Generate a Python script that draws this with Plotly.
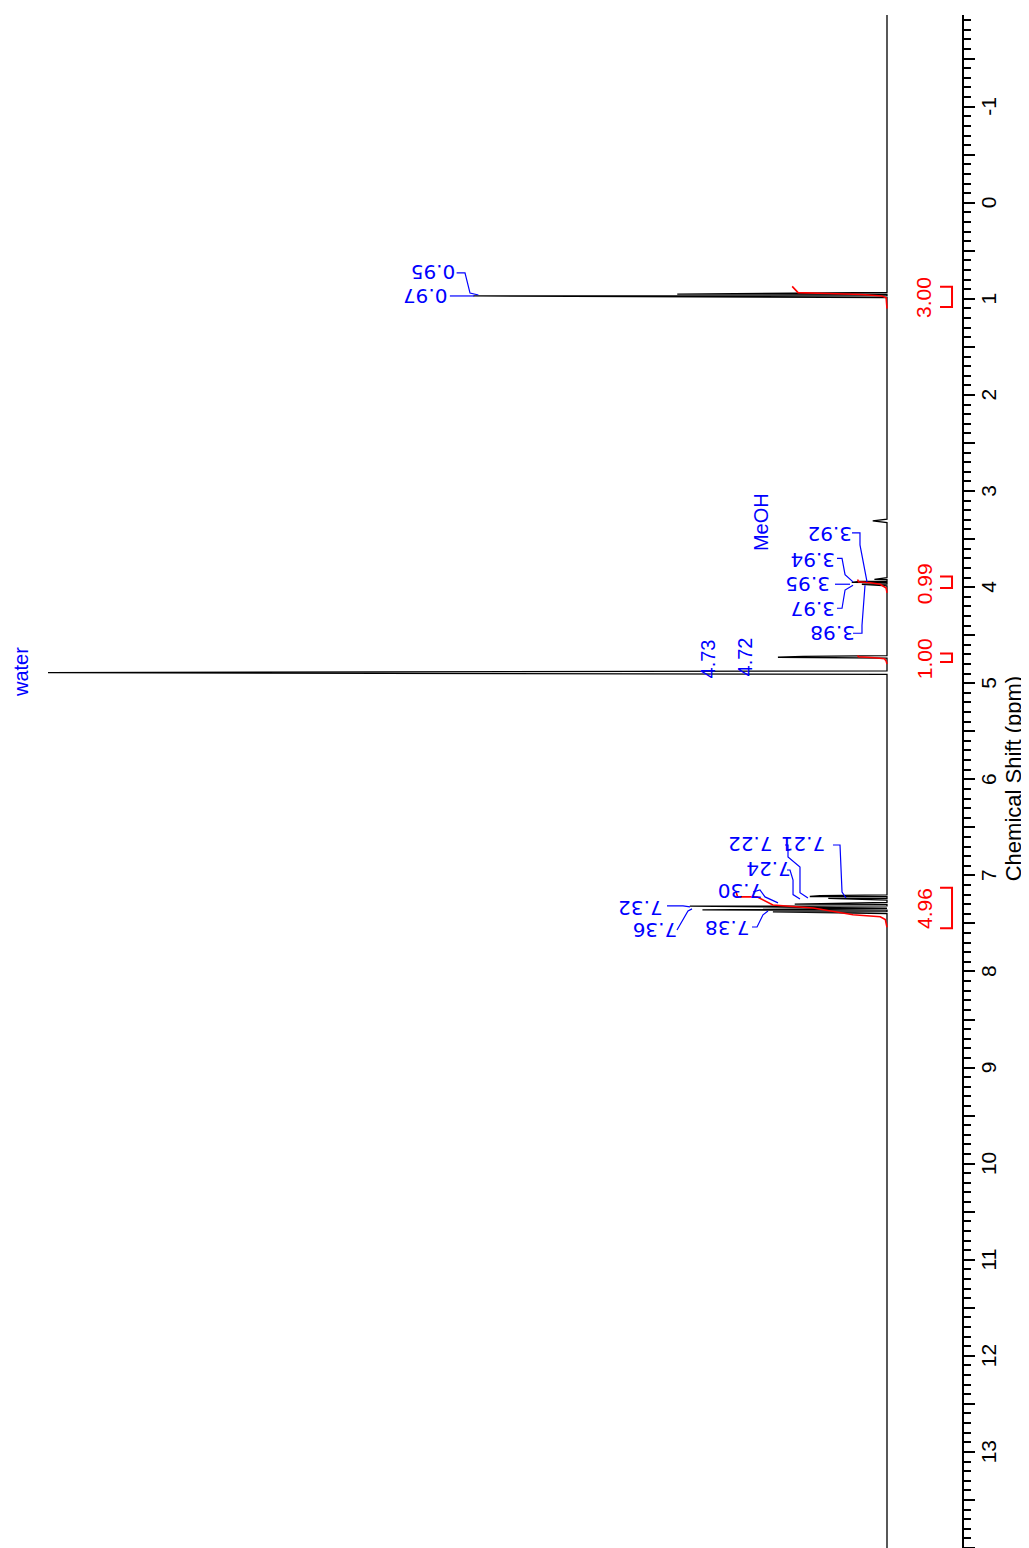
import plotly.graph_objects as go

# ---------------- data ----------------
# peak positions (ppm) and heights (relative intensity, water = 100)
PEAK_PPM = [0.95, 0.97, 3.31, 3.92, 3.94, 3.95, 3.97, 3.98, 4.72, 4.73, 4.89,
            7.21, 7.22, 7.24, 7.30, 7.32, 7.36, 7.38]
PEAK_HEIGHT = [25.0, 49.3, 1.7, 1.5, 3.3, 4.2, 3.0, 1.8, 10.0, 13.0, 100.0,
               8.0, 9.2, 7.0, 11.0, 23.5, 22.0, 13.6]
SPEC_START, SPEC_END = -1.96, 14.0

# integral curves (ppm, integral height in intensity units)
INT1_PPM = [0.87, 0.935, 0.945, 0.955, 0.97, 0.99, 1.10]
INT1_VAL = [11.3, 10.6, 7.0, 3.0, 0.6, 0.1, 0.0]
INT2_PPM = [3.92, 3.945, 3.955, 3.97, 4.01, 4.06]
INT2_VAL = [3.5, 3.4, 2.0, 0.8, 0.1, 0.0]
INT3_PPM = [4.71, 4.725, 4.735, 4.745, 4.77, 4.80]
INT3_VAL = [3.5, 3.4, 1.5, 0.3, 0.1, 0.0]
INT4_PPM = [7.17, 7.224, 7.224, 7.308, 7.34, 7.41, 7.43, 7.46, 7.54]
INT4_VAL = [18.0, 17.8, 15.5, 13.6, 8.8, 4.05, 0.8, 0.2, 0.0]

INT_RANGE_START = [0.875, 3.89, 4.69, 7.13]
INT_RANGE_END = [1.085, 4.01, 4.78, 7.55]
INT_LABEL_PPM = [0.98, 3.96, 4.74, 7.34]
INT_LABELS = ["3.00", "0.99", "1.00", "4.96"]

# peak labels (upside-down text): text, ppm, intensity position
PK_LABELS = ["0.95", "0.97", "3.92", "3.94", "3.95", "3.97", "3.98",
             "7.21", "7.22", "7.24", "7.30", "7.32", "7.36", "7.38"]
PK_LABEL_PPM = [0.72, 0.97, 3.44, 3.72, 3.97, 4.22, 4.47,
                6.68, 6.68, 6.94, 7.17, 7.34, 7.57, 7.54]
PK_LABEL_VAL = [54.1, 55.1, 6.79, 8.94, 9.54, 8.82, 6.56,
                10.0, 16.3, 14.2, 17.5, 29.4, 27.7, 19.1]

# connector polylines from labels to peaks (intensity, ppm)
CONNECTORS = [
    [(51.3, 0.73), (50.3, 0.73), (49.7, 0.94), (48.7, 0.96)],
    [(52.1, 0.97), (49.2, 0.97)],
    [(4.17, 3.436), (3.22, 3.436), (3.22, 3.56), (2.38, 3.946)],
    [(5.96, 3.70), (5.36, 3.70), (5.00, 3.87), (4.05, 3.946)],
    [(6.20, 3.97), (4.41, 3.97)],
    [(5.96, 4.22), (5.36, 4.22), (5.00, 4.03), (4.05, 3.98)],
    [(4.05, 4.48), (2.98, 4.48), (2.98, 4.40), (2.62, 3.98)],
    [(6.44, 6.684), (5.60, 6.684), (5.36, 7.173), (4.89, 7.235)],
    [(12.16, 6.684), (11.80, 6.684), (11.80, 6.808), (10.37, 6.913), (10.37, 7.18), (9.42, 7.235)],
    [(11.92, 6.944), (11.56, 6.944), (11.20, 7.048), (11.20, 7.20), (10.37, 7.245)],
    [(15.97, 7.173), (15.14, 7.152), (14.54, 7.224), (12.99, 7.286)],
    [(26.22, 7.317), (24.31, 7.317), (23.48, 7.328)],
    [(25.03, 7.568), (23.72, 7.37), (23.24, 7.349)],
    [(16.09, 7.537), (15.49, 7.537), (14.78, 7.41), (14.18, 7.37)],
]

# rotated (-90) labels: text, ppm, intensity
SIDE_LABELS = ["water", "MeOH", "4.73", "4.72"]
SIDE_LABEL_PPM = [4.88, 3.32, 4.75, 4.73]
SIDE_LABEL_VAL = [103.3, 15.1, 21.3, 16.9]

TICK_VALS = [i * 0.5 for i in range(-4, 29)]
TICK_TEXT = [(str(int(v)) + "\u00a0") if v == int(v) else "" for v in TICK_VALS]

# ---------------- build spectrum ----------------
HALF_W = 0.018
pts = [(SPEC_START, 0.0), (SPEC_END, 0.0)]
for p, h in zip(PEAK_PPM, PEAK_HEIGHT):
    pts += [(p - HALF_W, 0.0), (p, h), (p + HALF_W, 0.0)]
pts.sort(key=lambda t: t[0])
spec_ppm = [t[0] for t in pts]
spec_val = [t[1] for t in pts]

BLUE = "#0000FF"
RED = "#FF0000"

fig = go.Figure()
fig.add_trace(go.Scatter(x=spec_val, y=spec_ppm, mode="lines",
                         line=dict(color="black", width=1.3), hoverinfo="skip"))

for pp, vv in [(INT1_PPM, INT1_VAL), (INT2_PPM, INT2_VAL),
               (INT3_PPM, INT3_VAL), (INT4_PPM, INT4_VAL)]:
    fig.add_trace(go.Scatter(x=vv, y=pp, mode="lines",
                             line=dict(color=RED, width=1.6), hoverinfo="skip"))

# integral brackets
BR_IN, BR_OUT = -6.32, -7.75
for a, b in zip(INT_RANGE_START, INT_RANGE_END):
    fig.add_trace(go.Scatter(x=[BR_IN, BR_OUT, BR_OUT, BR_IN], y=[a, a, b, b],
                             mode="lines", line=dict(color=RED, width=2),
                             hoverinfo="skip"))

for c in CONNECTORS:
    fig.add_trace(go.Scatter(x=[q[0] for q in c], y=[q[1] for q in c], mode="lines",
                             line=dict(color=BLUE, width=1.2), hoverinfo="skip"))

for t, p in zip(INT_LABELS, INT_LABEL_PPM):
    fig.add_annotation(x=-4.41, y=p, text=t, textangle=-90, showarrow=False,
                       xanchor="center", yanchor="middle",
                       font=dict(family="Liberation Sans", size=21, color=RED))

for t, p, v in zip(PK_LABELS, PK_LABEL_PPM, PK_LABEL_VAL):
    fig.add_annotation(x=v, y=p, text=t, textangle=180, showarrow=False,
                       xanchor="center", yanchor="middle",
                       font=dict(family="DejaVu Sans", size=20, color=BLUE))

for t, p, v in zip(SIDE_LABELS, SIDE_LABEL_PPM, SIDE_LABEL_VAL):
    fig.add_annotation(x=v, y=p, text=t, textangle=-90, showarrow=False,
                       xanchor="center", yanchor="middle",
                       font=dict(family="Liberation Sans", size=20, color=BLUE))

# figure is placed 8px from the page corner by the default body margin
FIG_W, FIG_H = 1021, 1540
PLOT_W = 954
fig.add_annotation(xref="paper", x=1005 / PLOT_W, yref="y", y=6.0,
                   text="Chemical Shift (ppm)", textangle=-90, showarrow=False,
                   xanchor="center", yanchor="middle",
                   font=dict(family="Liberation Sans", size=22, color="black"))

fig.update_xaxes(range=[104.77, -8.94], visible=False, showgrid=False, zeroline=False)
fig.update_yaxes(range=[14.0, -1.954], side="right", showline=True, linecolor="black",
                 linewidth=2, showgrid=False, zeroline=False, ticks="outside",
                 ticklen=11, tickwidth=2, tickcolor="black",
                 tickvals=TICK_VALS, ticktext=TICK_TEXT, tickangle=-90,
                 ticklabelstandoff=-4, automargin=False,
                 tickfont=dict(family="Liberation Sans", size=21, color="black"),
                 minor=dict(dtick=0.1, tick0=0, ticks="outside", ticklen=7,
                            tickwidth=2, tickcolor="black", showgrid=False))

fig.update_layout(width=FIG_W, height=FIG_H, showlegend=False,
                  margin=dict(l=0, r=FIG_W - PLOT_W, t=7, b=0, pad=0),
                  paper_bgcolor="white", plot_bgcolor="white")

fig.write_html("out.html")
